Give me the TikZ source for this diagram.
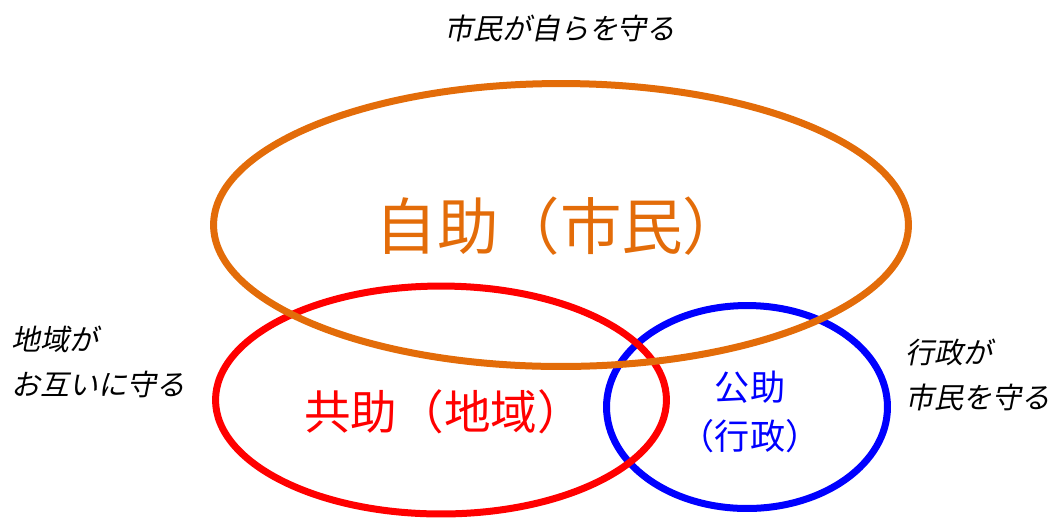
\documentclass[tikz,border=0pt]{standalone}
\usepackage{fontspec}
\setmainfont{Noto Sans CJK JP}
\newfontfamily\slantjp[FakeSlant=0.2]{Noto Sans CJK JP}
\usetikzlibrary{shapes.geometric}

\definecolor{jijoorange}{HTML}{E36C09}
\definecolor{kyojored}{HTML}{FF0000}
\definecolor{kojoblue}{HTML}{0000FF}

\tikzset{
  ring/.style={ellipse, draw, line width=0.14cm, inner sep=0pt},
  remark/.style={font=\slantjp\fontsize{16.5}{25.5}\selectfont, align=left, inner sep=0pt}
}

\begin{document}
\begin{tikzpicture}[x=0.02cm, y=-0.02cm]
    \useasboundingbox (0, 0) rectangle (1053, 522);
    % circles, back to front
    \node [ring, kojoblue, minimum width=5.62cm, minimum height=4.06cm] (kojo) at (747, 407) {};
    \node [ring, kyojored, minimum width=9.02cm, minimum height=4.56cm] (kyojo) at (441, 400) {};
    \node [ring, jijoorange, minimum width=13.9cm, minimum height=5.66cm] (jijo) at (561, 225) {};

    \node [jijoorange, font=\fontsize{35}{40}\selectfont] (jijotext) at (560, 226) {自助（市民）};
    \node [kyojored, font=\fontsize{26.5}{30}\selectfont] (kyojotext) at (444, 412) {共助（地域）};
    \node [kojoblue, font=\fontsize{20}{27.8}\selectfont, align=center] (kojotext) at (750, 412) {%
      公助 \\
      （行政）
    };

    \node [remark, anchor=south] (jijonote) at (560, 42) {市民が自らを守る};
    \node [remark, anchor=west] (kyojonote) at (11, 362) {%
      地域が \\
      お互いに守る
    };
    \node [remark, anchor=west] (kojonote) at (905, 375) {%
      行政が \\
      市民を守る
    };
  \end{tikzpicture}
\end{document}
